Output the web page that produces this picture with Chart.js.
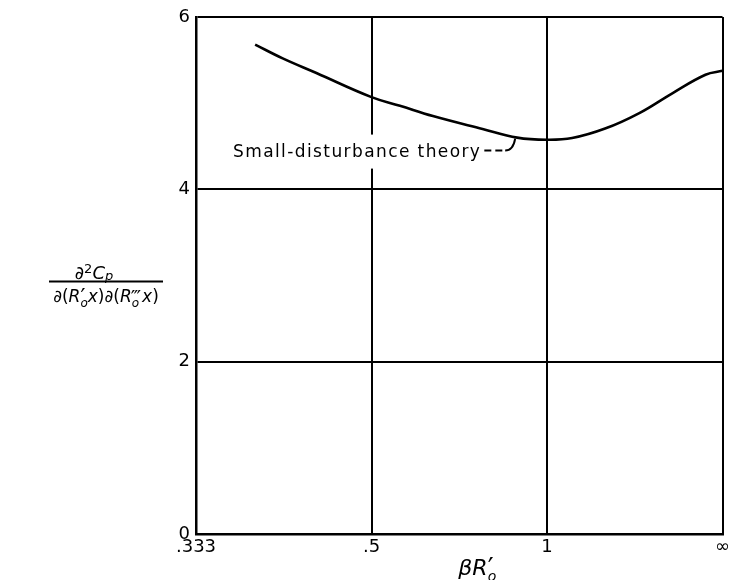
<!DOCTYPE html>
<html>
<head>
<meta charset="utf-8">
<script src="https://cdn.jsdelivr.net/npm/chart.js@4"></script>
<style>
html,body{margin:0;padding:0;background:#fff}
#wrap{width:733px;height:580px;position:relative}
</style>
</head>
<body>
<div id="wrap"><canvas id="c"></canvas></div>
<script>
// Horizontal axis is linear in 1/(βR'o), drawn reversed (.333 -> 3, ∞ -> 0)
const inverseBetaR = [2.663, 2.506, 2.314, 2.0, 1.838, 1.65, 1.367, 1.17, 1.0, 0.857, 0.669, 0.474, 0.286, 0.097, 0.0];
const d2CpValues   = [5.68, 5.52, 5.35, 5.07, 4.97, 4.85, 4.70, 4.60, 4.575, 4.595, 4.705, 4.885, 5.115, 5.33, 5.375];
const xTickValues = [3, 2, 1, 0];
const xTickLabels = ['.333', '.5', '1', '∞'];
const yTickValues = [0, 2, 4, 6];
const yTickLabels = ['0', '2', '4', '6'];
const curveLabel = 'Small-disturbance theory';
const curveLabelAnchor = {x: 2.789, y: 4.38};
const curveLabelTarget = {x: 1.17, y: 4.60};

const FONT = '"DejaVu Sans", sans-serif';
Chart.defaults.font.family = FONT;
Chart.defaults.color = '#000';

function drawRich(ctx, segs, cx, baseline) {
  let w = 0, stackW = 0;
  const items = [];
  for (const s of segs) {
    ctx.font = (s.italic ? 'italic ' : '') + s.size + 'px ' + FONT;
    const m = ctx.measureText(s.t).width;
    items.push({s, x: w});
    if (s.stack) { stackW = m; }
    else { w += Math.max(m, stackW); stackW = 0; }
  }
  const x0 = cx - w / 2;
  ctx.textAlign = 'left';
  ctx.textBaseline = 'alphabetic';
  for (const it of items) {
    const s = it.s;
    ctx.font = (s.italic ? 'italic ' : '') + s.size + 'px ' + FONT;
    ctx.fillText(s.t, x0 + it.x + (s.dx || 0), baseline + (s.dy || 0));
  }
  return w;
}

const annotationPlugin = {
  id: 'annot',
  afterDraw(chart) {
    const {ctx, chartArea: ca, scales: {x, y}} = chart;
    ctx.save();
    // curve label with white box
    ctx.font = '17px ' + FONT;
    ctx.letterSpacing = '1.4px';
    const tx = x.getPixelForValue(curveLabelAnchor.x);
    const ty = y.getPixelForValue(curveLabelAnchor.y);
    const tw = ctx.measureText(curveLabel).width;
    ctx.fillStyle = '#fff';
    ctx.fillRect(tx - 4, ty - 22, tw + 6, 34);
    ctx.fillStyle = '#000';
    ctx.textAlign = 'left';
    ctx.textBaseline = 'alphabetic';
    ctx.fillText(curveLabel, tx, ty);
    ctx.letterSpacing = '0px';
    // leader
    const px = x.getPixelForValue(curveLabelTarget.x);
    const py = y.getPixelForValue(curveLabelTarget.y);
    const ly = ty - 6;
    ctx.strokeStyle = '#000';
    ctx.lineWidth = 2;
    ctx.setLineDash([7, 4]);
    ctx.beginPath(); ctx.moveTo(tx + tw + 3, ly); ctx.lineTo(px - 14, ly); ctx.stroke();
    ctx.setLineDash([]);
    ctx.beginPath(); ctx.moveTo(px - 12, ly); ctx.quadraticCurveTo(px - 4, ly, px - 2, py + 1); ctx.stroke();

    // y-axis title (fraction)
    const cxT = ca.left - 90;
    const barY = (ca.top + ca.bottom) / 2 + 6;
    drawRich(ctx, [
      {t: '∂', size: 18},
      {t: '2', size: 13, dy: -6},
      {t: 'C', size: 18, italic: true},
      {t: 'p', size: 13, dy: 1, italic: true}
    ], cxT - 12, barY - 3);
    ctx.fillRect(cxT - 57, barY - 1, 114, 2);
    drawRich(ctx, [
      {t: '∂(', size: 17},
      {t: 'R', size: 17, italic: true},
      {t: '′', size: 22, dy: 2, dx: 0, stack: true},
      {t: 'o', size: 12, dy: 5, italic: true},
      {t: 'x', size: 17, italic: true},
      {t: ')∂(', size: 17},
      {t: 'R', size: 17, italic: true},
      {t: '‴', size: 20, dy: 2, dx: -1, stack: true},
      {t: 'o', size: 12, dy: 5, italic: true},
      {t: 'x', size: 17, italic: true},
      {t: ')', size: 17}
    ], cxT, barY + 20);

    // x-axis title
    drawRich(ctx, [
      {t: 'β', size: 22, italic: true},
      {t: 'R', size: 22, italic: true},
      {t: '′', size: 26, dy: 2, dx: 0, stack: true},
      {t: 'o', size: 14, dy: 6, italic: true}
    ], (ca.left + ca.right) / 2 + 18, ca.bottom + 41);
    ctx.restore();
  }
};

new Chart(document.getElementById('c'), {
  type: 'line',
  data: {
    datasets: [{
      label: curveLabel,
      data: inverseBetaR.map((v, i) => ({x: v, y: d2CpValues[i]})),
      borderColor: '#000',
      borderWidth: 2.6,
      pointRadius: 0,
      fill: false,
      tension: 0.4
    }]
  },
  options: {
    responsive: true,
    maintainAspectRatio: false,
    animation: false,
    layout: {padding: {top: 17, right: 10, left: 0, bottom: 0}},
    plugins: {legend: {display: false}, tooltip: {enabled: false}},
    scales: {
      x: {
        type: 'linear', reverse: true, min: 0, max: 3,
        afterBuildTicks: s => { s.ticks = xTickValues.map(v => ({value: v})); },
        afterFit: s => { s.height = 46; },
        ticks: {
          callback: v => xTickLabels[xTickValues.indexOf(v)],
          font: {size: 18}, padding: 3, maxRotation: 0, autoSkip: false
        },
        grid: {color: '#000', lineWidth: 2, drawTicks: false},
        border: {color: '#000', width: 2.5}
      },
      y: {
        min: 0, max: 6,
        afterBuildTicks: s => { s.ticks = yTickValues.map(v => ({value: v})); },
        afterFit: s => { s.width = 196; },
        ticks: {
          callback: v => yTickLabels[yTickValues.indexOf(v)],
          font: {size: 18}, padding: 6, autoSkip: false
        },
        grid: {color: '#000', lineWidth: 2, drawTicks: false},
        border: {color: '#000', width: 2.5}
      }
    }
  },
  plugins: [annotationPlugin]
});
</script>
</body>
</html>
